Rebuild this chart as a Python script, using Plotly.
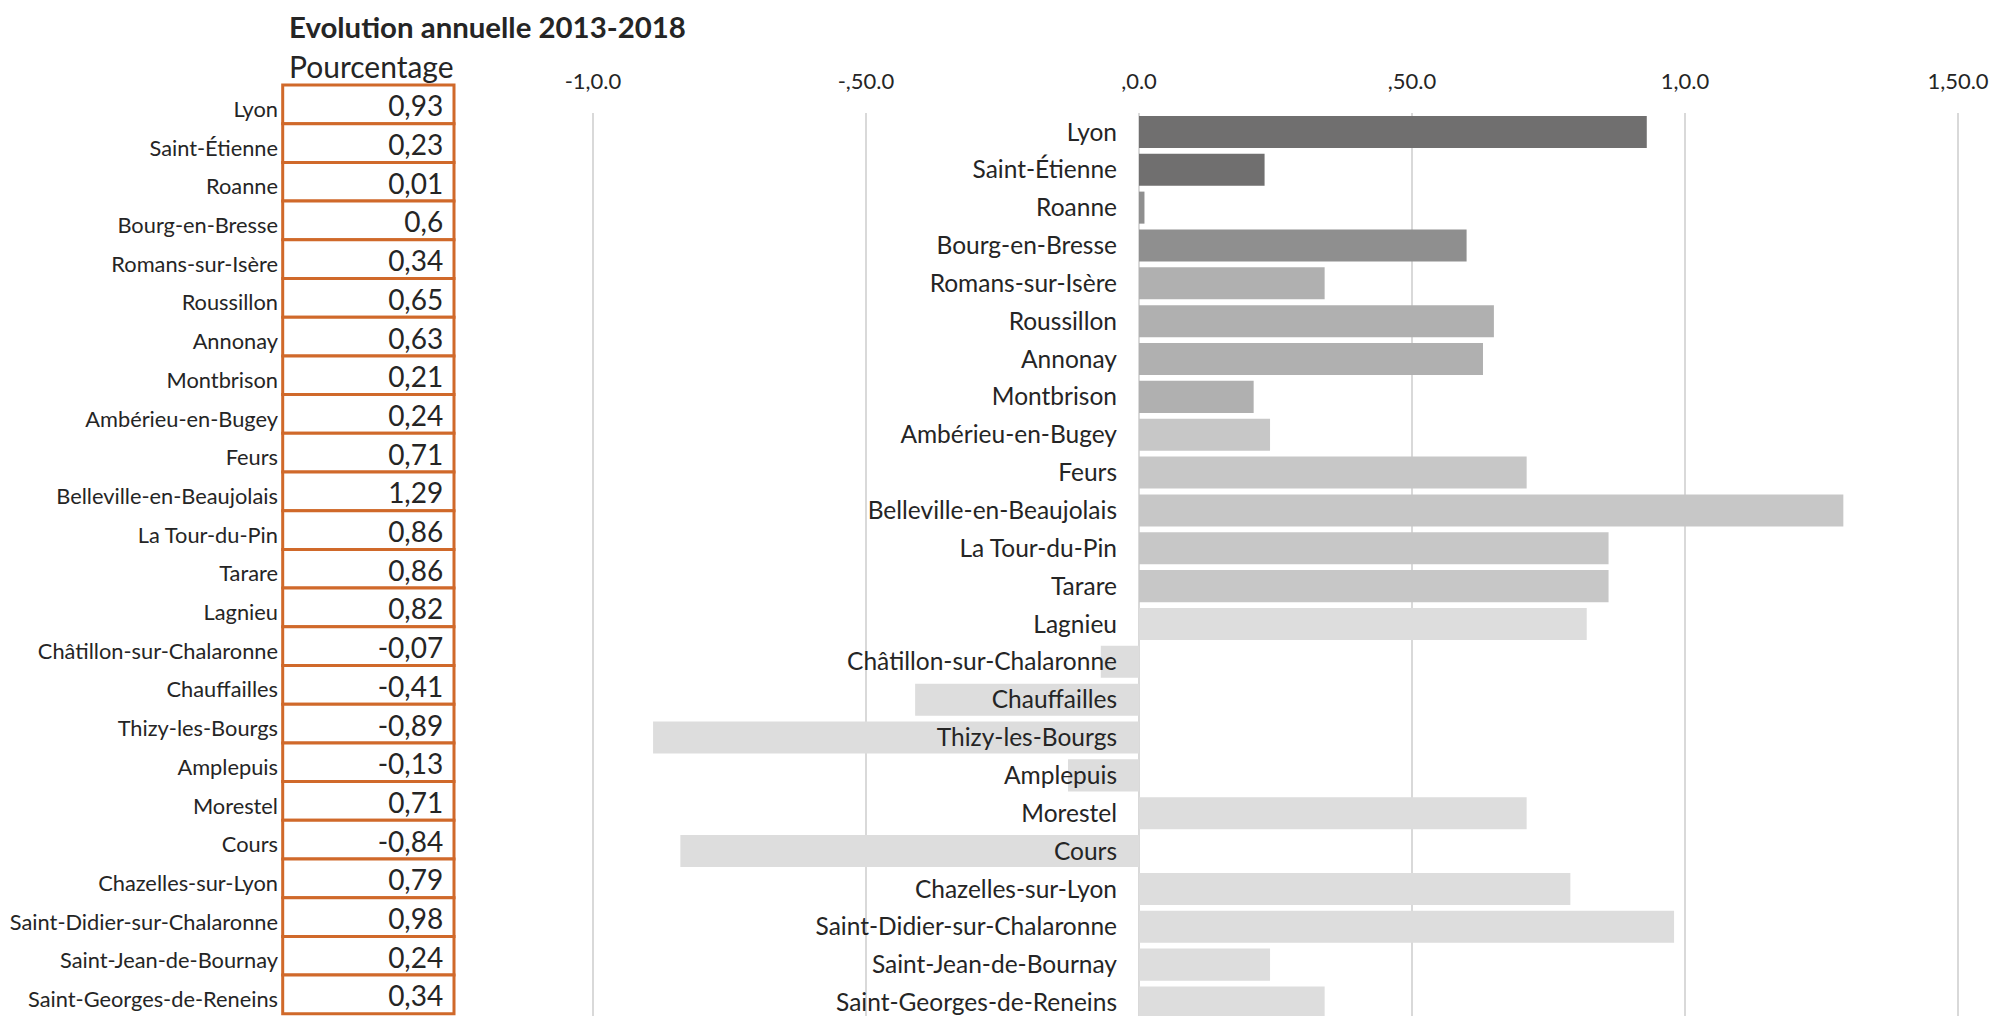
import plotly.graph_objects as go

cities = ["Lyon", "Saint-Étienne", "Roanne", "Bourg-en-Bresse", "Romans-sur-Isère",
          "Roussillon", "Annonay", "Montbrison", "Ambérieu-en-Bugey", "Feurs",
          "Belleville-en-Beaujolais", "La Tour-du-Pin", "Tarare", "Lagnieu",
          "Châtillon-sur-Chalaronne", "Chauffailles", "Thizy-les-Bourgs", "Amplepuis",
          "Morestel", "Cours", "Chazelles-sur-Lyon", "Saint-Didier-sur-Chalaronne",
          "Saint-Jean-de-Bournay", "Saint-Georges-de-Reneins"]
values = [0.93, 0.23, 0.01, 0.6, 0.34, 0.65, 0.63, 0.21, 0.24, 0.71, 1.29, 0.86, 0.86,
          0.82, -0.07, -0.41, -0.89, -0.13, 0.71, -0.84, 0.79, 0.98, 0.24, 0.34]
value_labels = ["0,93", "0,23", "0,01", "0,6", "0,34", "0,65", "0,63", "0,21", "0,24",
                "0,71", "1,29", "0,86", "0,86", "0,82", "-0,07", "-0,41", "-0,89",
                "-0,13", "0,71", "-0,84", "0,79", "0,98", "0,24", "0,34"]
tick_vals = [-1.0, -0.5, 0.0, 0.5, 1.0, 1.5]
tick_text = ["-1,0.0", "-,50.0", ",0.0", ",50.0", "1,0.0", "1,50.0"]

# style: shade per city group
shade = {"a": "#706f6f", "b": "#8f8f8f", "c": "#b0b0b0", "d": "#c7c7c7", "e": "#dddddd"}
groups = ["a", "a", "b", "b", "c", "c", "c", "c", "d", "d", "d", "d", "d",
          "e", "e", "e", "e", "e", "e", "e", "e", "e", "e", "e"]
bar_colors = [shade[g] for g in groups]

W, H = 1995, 1016
FONT = "Lato"
TXT = "#252525"
ORANGE = "#d0692a"

# main chart geometry (pixels)
x_left_px, x_right_px = 560, W
px_per_unit = 546.0
zero_px = 1139.0
xr = [(x_left_px - zero_px) / px_per_unit, (x_right_px - zero_px) / px_per_unit]
xdom = [x_left_px / W, x_right_px / W]
plot_top_px = 113.0
row_px = 37.85
y_bottom_val = -0.5 + (H - plot_top_px) / row_px

# table geometry
t_left, t_right = 282.7, 454.0
t_unit = t_right - t_left
tdom_l, tdom_r = 278.0, 459.0
x2r = [-(t_left - tdom_l) / t_unit, 1 + (tdom_r - t_right) / t_unit]
t_top = 85.0
t_row = 38.7
t_dom_top = 82.0
y2r = [23.5 + (H - (t_top + 24 * t_row)) / t_row, -0.5 - (t_top - t_dom_top) / t_row]
text_drop = 5.0 / t_row
y3r = [y2r[0] - text_drop, y2r[1] - text_drop]

fig = go.Figure()

fig.add_trace(go.Bar(
    y=cities, x=values, orientation="h", marker=dict(color=bar_colors, line=dict(width=0)),
    width=0.846, xaxis="x", yaxis="y", hoverinfo="x+y", showlegend=False,
))

# table cells
fig.add_trace(go.Bar(
    y=cities, x=[1] * len(cities), base=0, orientation="h", width=1,
    marker=dict(color="white", line=dict(color=ORANGE, width=3)),
    xaxis="x2", yaxis="y2", hoverinfo="skip", showlegend=False,
))
fig.add_trace(go.Scatter(
    y=cities, x=[0.937] * len(cities), mode="text", text=value_labels,
    textposition="middle left", textfont=dict(family=FONT, size=28, color=TXT),
    xaxis="x2", yaxis="y3", hoverinfo="skip", showlegend=False, cliponaxis=False,
))

ypos = xdom[0] + (0 - xr[0]) / (xr[1] - xr[0]) * (xdom[1] - xdom[0])

fig.update_layout(
    width=W, height=H,
    margin=dict(l=0, r=0, t=0, b=0),
    paper_bgcolor="white", plot_bgcolor="white",
    font=dict(family=FONT, color=TXT),
    xaxis=dict(domain=xdom, range=xr, side="top", tickvals=tick_vals, ticktext=tick_text,
               showgrid=True, gridcolor="#d9d9d9", gridwidth=1.5, zeroline=False,
               showline=False, ticks="", ticklabelstandoff=19,
               tickfont=dict(family=FONT, size=22, color=TXT), fixedrange=True),
    yaxis=dict(domain=[0, 1 - plot_top_px / H], range=[y_bottom_val, -0.5],
               type="category", categoryorder="array", categoryarray=cities,
               anchor="free", position=ypos, showgrid=False, zeroline=False,
               showline=False, ticks="", ticklabelstandoff=22,
               tickfont=dict(family=FONT, size=24.5, color=TXT), fixedrange=True),
    xaxis2=dict(domain=[tdom_l / W, tdom_r / W], range=x2r, showgrid=False,
                zeroline=False, showticklabels=False, ticks="", anchor="y2",
                fixedrange=True),
    yaxis2=dict(domain=[0, 1 - t_dom_top / H], range=y2r, anchor="free",
                position=278.0 / W,
                type="category", categoryorder="array", categoryarray=cities,
                showgrid=False, zeroline=False, ticks="", ticklabelstandoff=0,
                ticklabelshift=-5,
                tickfont=dict(family=FONT, size=21.8, color=TXT), fixedrange=True),
    yaxis3=dict(domain=[0, 1 - t_dom_top / H], range=y3r, anchor="x2",
                overlaying="y2", type="category", categoryorder="array",
                categoryarray=cities, showgrid=False, zeroline=False,
                showticklabels=False, ticks="", fixedrange=True),
    annotations=[
        dict(text="<b>Evolution annuelle 2013-2018</b>", x=287 / W, y=1 - 27 / H,
             xref="paper", yref="paper", xanchor="left", yanchor="middle",
             showarrow=False, font=dict(family=FONT, size=29.4, color=TXT)),
        dict(text="Pourcentage", x=287 / W, y=1 - 66 / H,
             xref="paper", yref="paper", xanchor="left", yanchor="middle",
             showarrow=False, font=dict(family=FONT, size=30, color=TXT)),
    ],
)

fig.write_html("out.html", config={"displayModeBar": False},
               post_script="document.body.style.margin='0';")
